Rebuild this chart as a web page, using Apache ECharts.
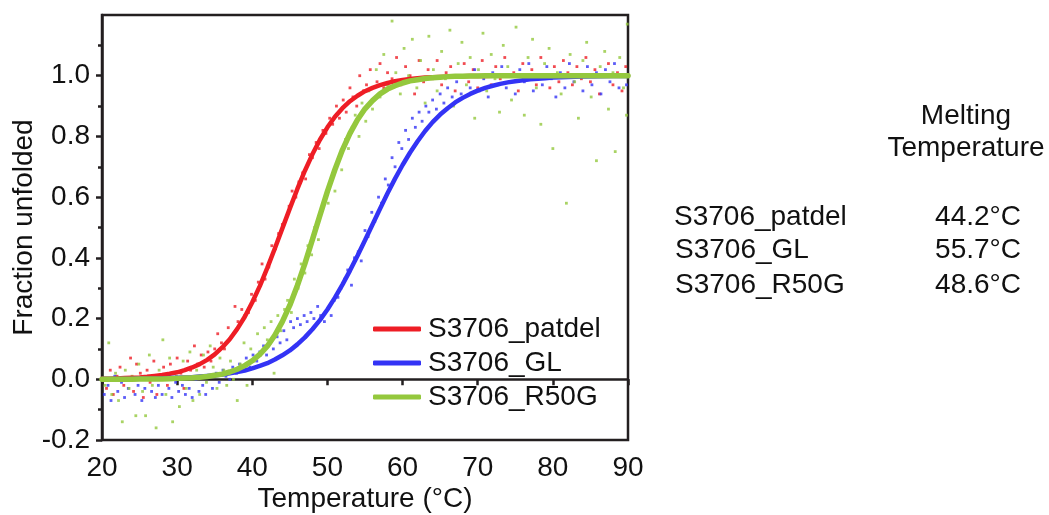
<!DOCTYPE html>
<html>
<head>
<meta charset="utf-8">
<script src="https://cdn.jsdelivr.net/npm/echarts@6/dist/echarts.min.js"></script>
<style>
html,body{margin:0;padding:0;background:#fff;}
#c{width:1049px;height:515px;}
</style>
</head>
<body>
<div id="c"></div>
<script>
// ---- data ----
var seriesNames = ['S3706_patdel', 'S3706_GL', 'S3706_R50G'];
var meltingTemps = ['44.2°C', '55.7°C', '48.6°C'];
var yTickValues = [-0.2, 0, 0.2, 0.4, 0.6, 0.8, 1.0];

// fitted curves, sampled by temperature
var curveT = [20,21,22,23,24,25,26,27,28,29,30,31,32,33,34,35,36,37,38,39,40,41,42,43,44,45,46,47,48,49,50,51,52,53,54,55,56,57,58,59,60,61,62,63,64,65,66,67,68,69,70,71,72,73,74,75,76,77,78,79,80,82,84,86,88,90];
var patdelCurve = [0.002,0.002,0.003,0.004,0.005,0.006,0.008,0.011,0.014,0.018,0.023,0.030,0.039,0.050,0.064,0.082,0.105,0.132,0.166,0.206,0.254,0.307,0.367,0.431,0.497,0.563,0.627,0.687,0.741,0.789,0.830,0.865,0.893,0.916,0.934,0.949,0.960,0.969,0.976,0.982,0.986,0.989,0.992,0.994,0.995,0.996,0.997,0.998,0.998,0.999,0.999,0.999,1,1,1,1,1,1,1,1,1,1,1,1,1,1];
var glCurve = [0.001,0.001,0.001,0.001,0.001,0.002,0.002,0.002,0.003,0.004,0.005,0.006,0.007,0.009,0.011,0.013,0.016,0.020,0.024,0.029,0.036,0.044,0.053,0.065,0.079,0.095,0.115,0.138,0.165,0.195,0.230,0.269,0.312,0.358,0.407,0.458,0.510,0.562,0.613,0.661,0.706,0.747,0.784,0.818,0.847,0.872,0.893,0.912,0.927,0.940,0.951,0.960,0.967,0.973,0.978,0.982,0.985,0.988,0.990,0.992,0.994,0.996,0.997,0.998,0.999,0.999];
var r50gCurve = [0,0,0,0,0,0.001,0.001,0.001,0.001,0.002,0.003,0.004,0.005,0.007,0.009,0.013,0.017,0.024,0.033,0.045,0.061,0.082,0.109,0.145,0.190,0.244,0.309,0.381,0.460,0.540,0.619,0.691,0.756,0.810,0.855,0.891,0.918,0.940,0.956,0.967,0.976,0.983,0.987,0.991,0.993,0.995,0.997,0.998,0.998,0.999,0.999,1,1,1,1,1,1,1,1,1,1,1,1,1,1,1];

// measured points [temperature, fraction]
var patdelPts = [[20.6,-0.03],[21.1,0.03],[21.5,-0.05],[22.0,0.01],[22.4,0.04],[22.9,-0.02],[23.3,0.00],[23.8,0.07],[24.2,-0.04],[24.6,0.05],[25.1,0.02],[25.5,-0.06],[26.0,0.03],[26.4,-0.01],[26.9,0.06],[27.3,-0.05],[27.8,0.01],[28.2,0.04],[28.7,-0.02],[29.1,0.05],[29.6,0.00],[30.0,0.07],[30.5,0.02],[30.9,-0.03],[31.4,0.06],[31.8,0.03],[32.3,0.11],[32.7,0.05],[33.2,0.08],[33.6,0.04],[34.1,0.09],[34.5,0.06],[35.0,0.10],[35.4,0.15],[35.9,0.12],[36.3,0.10],[36.8,0.17],[37.2,0.14],[37.7,0.24],[38.1,0.19],[38.6,0.23],[39.0,0.21],[39.5,0.22],[39.9,0.28],[40.4,0.26],[40.8,0.32],[41.3,0.38],[41.7,0.33],[42.2,0.37],[42.6,0.44],[43.1,0.43],[43.5,0.48],[44.0,0.51],[44.4,0.52],[44.9,0.57],[45.3,0.62],[45.8,0.60],[46.2,0.65],[46.7,0.68],[47.1,0.66],[47.6,0.74],[48.0,0.73],[48.5,0.78],[48.9,0.76],[49.4,0.82],[49.8,0.81],[50.3,0.86],[50.7,0.84],[51.2,0.90],[51.6,0.86],[52.1,0.92],[52.5,0.88],[53.0,0.96],[53.4,0.93],[53.9,0.90],[54.3,1.00],[54.8,0.95],[55.2,0.97],[55.7,1.02],[56.1,0.92],[56.6,0.98],[57.0,1.04],[57.5,0.96],[58.0,1.01],[58.6,0.99],[59.2,1.06],[59.8,0.97],[60.4,1.03],[61.0,1.00],[61.6,0.94],[62.2,1.05],[62.8,0.98],[63.4,1.02],[64.0,0.99],[64.6,1.05],[65.2,0.97],[65.8,1.01],[66.4,1.03],[67.0,0.95],[67.6,1.00],[68.2,1.04],[68.8,0.98],[69.4,1.02],[70.0,0.96],[70.6,1.05],[71.2,1.00],[71.8,0.97],[72.4,1.03],[73.0,0.99],[73.6,1.06],[74.2,0.98],[74.8,1.01],[75.4,0.95],[76.0,1.04],[76.6,0.99],[77.2,1.02],[77.8,0.97],[78.4,1.06],[79.0,1.00],[79.6,0.96],[80.2,1.03],[80.8,0.98],[81.4,1.05],[82.0,1.01],[82.6,0.97],[83.2,1.03],[83.8,0.99],[84.4,1.06],[85.0,0.98],[85.6,1.02],[86.2,0.94],[86.8,1.00],[87.4,1.04],[88.0,0.97],[88.6,1.01],[89.2,0.95],[89.7,1.03]];
var glPts = [[20.3,-0.05],[20.8,-0.02],[21.2,-0.07],[21.7,0.01],[22.1,-0.04],[22.6,-0.01],[23.0,-0.06],[23.5,-0.03],[23.9,0.00],[24.4,-0.05],[24.8,-0.02],[25.3,-0.07],[25.7,-0.03],[26.2,0.01],[26.6,-0.04],[27.1,-0.06],[27.5,-0.02],[28.0,-0.05],[28.4,0.00],[28.9,-0.03],[29.3,-0.06],[29.8,-0.01],[30.2,-0.04],[30.7,-0.02],[31.1,-0.05],[31.6,-0.03],[32.0,-0.06],[32.5,0.00],[32.9,-0.04],[33.4,-0.02],[33.8,-0.05],[34.3,0.01],[34.7,-0.03],[35.2,0.02],[35.6,-0.01],[36.1,0.03],[36.5,0.01],[37.0,0.00],[37.4,0.04],[37.9,0.02],[38.3,0.05],[38.8,0.03],[39.2,0.07],[39.7,0.04],[40.1,0.08],[40.6,0.06],[41.0,0.09],[41.5,0.11],[41.9,0.08],[42.4,0.12],[42.8,0.10],[43.3,0.14],[43.7,0.12],[44.2,0.16],[44.6,0.13],[45.1,0.19],[45.5,0.17],[46.0,0.20],[46.4,0.18],[46.9,0.21],[47.3,0.19],[47.8,0.22],[48.2,0.20],[48.7,0.24],[49.1,0.21],[49.6,0.19],[50.0,0.23],[50.5,0.21],[50.9,0.26],[51.4,0.27],[51.8,0.30],[52.3,0.33],[52.7,0.36],[53.2,0.31],[53.6,0.40],[54.1,0.42],[54.5,0.39],[55.0,0.49],[55.4,0.47],[55.9,0.55],[56.3,0.52],[56.8,0.60],[57.2,0.58],[57.7,0.66],[58.1,0.64],[58.6,0.73],[59.0,0.70],[59.5,0.78],[59.9,0.76],[60.4,0.82],[60.8,0.79],[61.3,0.86],[61.7,0.83],[62.2,0.88],[62.6,0.85],[63.1,0.90],[63.5,0.88],[64.0,0.92],[64.5,0.89],[65.0,0.94],[65.5,0.91],[66.0,0.96],[66.6,0.93],[67.2,0.98],[67.8,0.94],[68.4,1.00],[69.0,0.96],[69.6,1.02],[70.2,0.95],[70.8,0.99],[71.4,0.93],[72.0,1.01],[72.6,0.97],[73.2,1.03],[73.8,0.96],[74.4,1.00],[75.0,0.94],[75.6,1.02],[76.2,0.98],[76.8,1.04],[77.4,0.95],[78.0,1.00],[78.6,0.97],[79.2,1.03],[79.8,0.99],[80.4,0.93],[81.0,1.01],[81.6,0.96],[82.2,1.04],[82.8,0.98],[83.4,1.00],[84.0,0.95],[84.6,1.03],[85.2,0.97],[85.8,1.01],[86.4,0.94],[87.0,1.02],[87.6,0.98],[88.2,1.04],[88.8,0.96],[89.4,1.00],[89.8,0.97]];
var r50gPts = [[20.4,-0.02],[20.9,0.12],[21.3,-0.05],[21.8,0.02],[22.2,-0.07],[22.7,-0.14],[23.1,0.03],[23.6,-0.03],[24.0,0.01],[24.5,-0.12],[24.9,0.05],[25.4,-0.04],[25.8,-0.12],[26.3,0.08],[26.7,-0.02],[27.2,-0.16],[27.6,0.03],[28.1,0.13],[28.5,-0.05],[29.0,0.07],[29.4,-0.14],[29.9,0.01],[30.3,-0.09],[30.8,0.06],[31.2,-0.03],[31.7,0.09],[32.1,-0.07],[32.6,0.03],[33.0,-0.05],[33.5,0.08],[33.9,-0.01],[34.4,0.11],[34.8,0.04],[35.3,-0.03],[35.7,0.07],[36.2,0.03],[36.6,-0.02],[37.1,0.06],[37.5,0.00],[38.0,-0.07],[38.4,0.05],[38.9,0.12],[39.3,-0.02],[39.8,0.10],[40.2,0.06],[40.7,0.15],[41.1,0.08],[41.6,0.17],[42.0,0.13],[42.5,0.19],[42.9,0.02],[43.4,0.21],[43.8,0.16],[44.3,0.23],[44.7,0.26],[45.2,0.22],[45.6,0.33],[46.1,0.30],[46.5,0.38],[47.0,0.35],[47.4,0.44],[47.9,0.41],[48.3,0.50],[48.8,0.46],[49.2,0.56],[49.7,0.60],[50.1,0.58],[50.6,0.66],[51.0,0.62],[51.5,0.72],[51.9,0.69],[52.4,0.79],[52.8,0.76],[53.3,0.83],[53.7,0.87],[54.2,0.80],[54.6,0.91],[55.1,0.85],[55.5,0.95],[56.0,0.89],[56.5,1.02],[57.0,0.93],[57.5,1.07],[58.0,0.97],[58.6,1.18],[59.1,1.01],[59.7,0.94],[60.2,1.09],[60.8,1.00],[61.3,1.12],[61.9,0.96],[62.4,1.05],[63.0,0.91],[63.5,1.13],[64.1,1.02],[64.6,0.95],[65.2,1.08],[65.7,0.99],[66.3,1.15],[66.8,0.90],[67.4,1.04],[67.9,1.11],[68.5,0.97],[69.0,1.06],[69.6,0.86],[70.1,1.02],[70.7,1.14],[71.2,0.95],[71.8,1.07],[72.3,0.99],[72.9,0.88],[73.4,1.10],[74.0,1.03],[74.5,0.92],[75.1,1.16],[75.6,1.00],[76.2,0.87],[76.7,1.06],[77.3,1.12],[77.8,0.96],[78.4,0.84],[78.9,1.04],[79.5,1.09],[80.0,0.76],[80.6,1.01],[81.1,0.94],[81.8,0.58],[82.3,1.07],[82.9,0.98],[83.4,0.86],[84.0,1.05],[84.5,1.11],[85.1,0.93],[85.8,0.72],[86.3,1.03],[86.9,1.08],[87.4,0.89],[88.0,1.01],[88.3,0.75],[88.9,1.06],[89.4,0.96],[89.8,0.87],[89.9,1.17]];

// ---- chart ----
var colors = ['#ee1d25', '#3333f5', '#94c83d'];
var FONT = '"Liberation Sans", Arial, sans-serif';
var FS = 28;
var TXT = '#111';
function zip(xs, ys) { return xs.map(function (x, i) { return [x, ys[i]]; }); }

var chart = echarts.init(document.getElementById('c'), null, {renderer: 'canvas'});
var option = {
  animation: false,
  backgroundColor: '#fff',
  textStyle: {fontFamily: FONT},
  grid: {left: 102, right: 421, top: 15, bottom: 75, containLabel: false, outerBoundsMode: 'none',
    show: true, borderColor: '#231f20', borderWidth: 2.5, backgroundColor: 'transparent'},
  xAxis: {
    type: 'value', min: 20, max: 90, interval: 10,
    name: 'Temperature (°C)', nameLocation: 'middle', nameGap: 45, nameMoveOverlap: false,
    nameTextStyle: {fontSize: FS, color: TXT, fontFamily: FONT},
    axisLine: {show: true, lineStyle: {color: '#231f20', width: 2.5}},
    axisTick: {show: true, inside: false, length: 6, lineStyle: {color: '#231f20', width: 2.5}},
    axisLabel: {fontSize: FS, color: TXT, margin: 14, fontFamily: FONT},
    splitLine: {show: false}
  },
  yAxis: {
    type: 'value', min: -0.2, max: 1.2, interval: 0.2,
    name: 'Fraction unfolded', nameLocation: 'middle', nameGap: 64, nameRotate: 90, nameMoveOverlap: false,
    nameTextStyle: {fontSize: FS, color: TXT, fontFamily: FONT},
    axisLine: {show: true, lineStyle: {color: '#231f20', width: 2.5}},
    axisTick: {show: true, inside: false, length: 6, customValues: yTickValues, lineStyle: {color: '#231f20', width: 2.5}},
    minorTick: {show: true, splitNumber: 2, length: 4, lineStyle: {color: '#231f20', width: 2.5}},
    axisLabel: {fontSize: FS, color: TXT, margin: 12, fontFamily: FONT, customValues: yTickValues,
      formatter: function (v) { return (Math.round(v * 10) / 10).toFixed(1); }},
    splitLine: {show: false}
  },
  legend: {
    left: 368, top: 310, orient: 'vertical', itemGap: 6,
    itemWidth: 48, itemHeight: 5, icon: 'roundRect',
    data: seriesNames,
    textStyle: {fontSize: FS, color: TXT, fontFamily: FONT, lineHeight: 28, padding: [0, 0, 0, 2]}
  },
  series: [
    {name: 'pts0', type: 'scatter', data: patdelPts, symbol: 'rect', symbolSize: 2.8, itemStyle: {color: colors[0]}, z: 1, silent: true},
    {name: 'pts1', type: 'scatter', data: glPts, symbol: 'rect', symbolSize: 2.8, itemStyle: {color: colors[1]}, z: 1, silent: true},
    {name: 'pts2', type: 'scatter', data: r50gPts, symbol: 'rect', symbolSize: 2.8, itemStyle: {color: colors[2]}, z: 1, silent: true},
    {name: seriesNames[0], type: 'line', data: zip(curveT, patdelCurve), showSymbol: false, symbol: 'none', z: 3,
      itemStyle: {color: colors[0]}, lineStyle: {color: colors[0], width: 4.5, cap: 'round'}},
    {name: seriesNames[1], type: 'line', data: zip(curveT, glCurve), showSymbol: false, symbol: 'none', z: 3,
      itemStyle: {color: colors[1]}, lineStyle: {color: colors[1], width: 4.5, cap: 'round'}},
    {name: seriesNames[2], type: 'line', data: zip(curveT, r50gCurve), showSymbol: false, symbol: 'none', z: 4,
      itemStyle: {color: colors[2]}, lineStyle: {color: colors[2], width: 5.5, cap: 'round'}}
  ],
  graphic: [
    {type: 'group', children: [
      {type: 'text', x: 966, y: 116, style: {text: 'Melting', font: FS + 'px ' + FONT, fill: TXT, align: 'center', verticalAlign: 'middle'}},
      {type: 'text', x: 966, y: 148, style: {text: 'Temperature', font: FS + 'px ' + FONT, fill: TXT, align: 'center', verticalAlign: 'middle'}},
      {type: 'text', x: 674, y: 217, style: {text: seriesNames[0], font: FS + 'px ' + FONT, fill: TXT, align: 'left', verticalAlign: 'middle'}},
      {type: 'text', x: 675, y: 250, style: {text: seriesNames[1], font: FS + 'px ' + FONT, fill: TXT, align: 'left', verticalAlign: 'middle'}},
      {type: 'text', x: 675, y: 285, style: {text: seriesNames[2], font: FS + 'px ' + FONT, fill: TXT, align: 'left', verticalAlign: 'middle'}},
      {type: 'text', x: 1021, y: 217, style: {text: meltingTemps[0], font: FS + 'px ' + FONT, fill: TXT, align: 'right', verticalAlign: 'middle'}},
      {type: 'text', x: 1021, y: 250, style: {text: meltingTemps[1], font: FS + 'px ' + FONT, fill: TXT, align: 'right', verticalAlign: 'middle'}},
      {type: 'text', x: 1021, y: 285, style: {text: meltingTemps[2], font: FS + 'px ' + FONT, fill: TXT, align: 'right', verticalAlign: 'middle'}}
    ]}
  ]
};
chart.setOption(option);
</script>
</body>
</html>
